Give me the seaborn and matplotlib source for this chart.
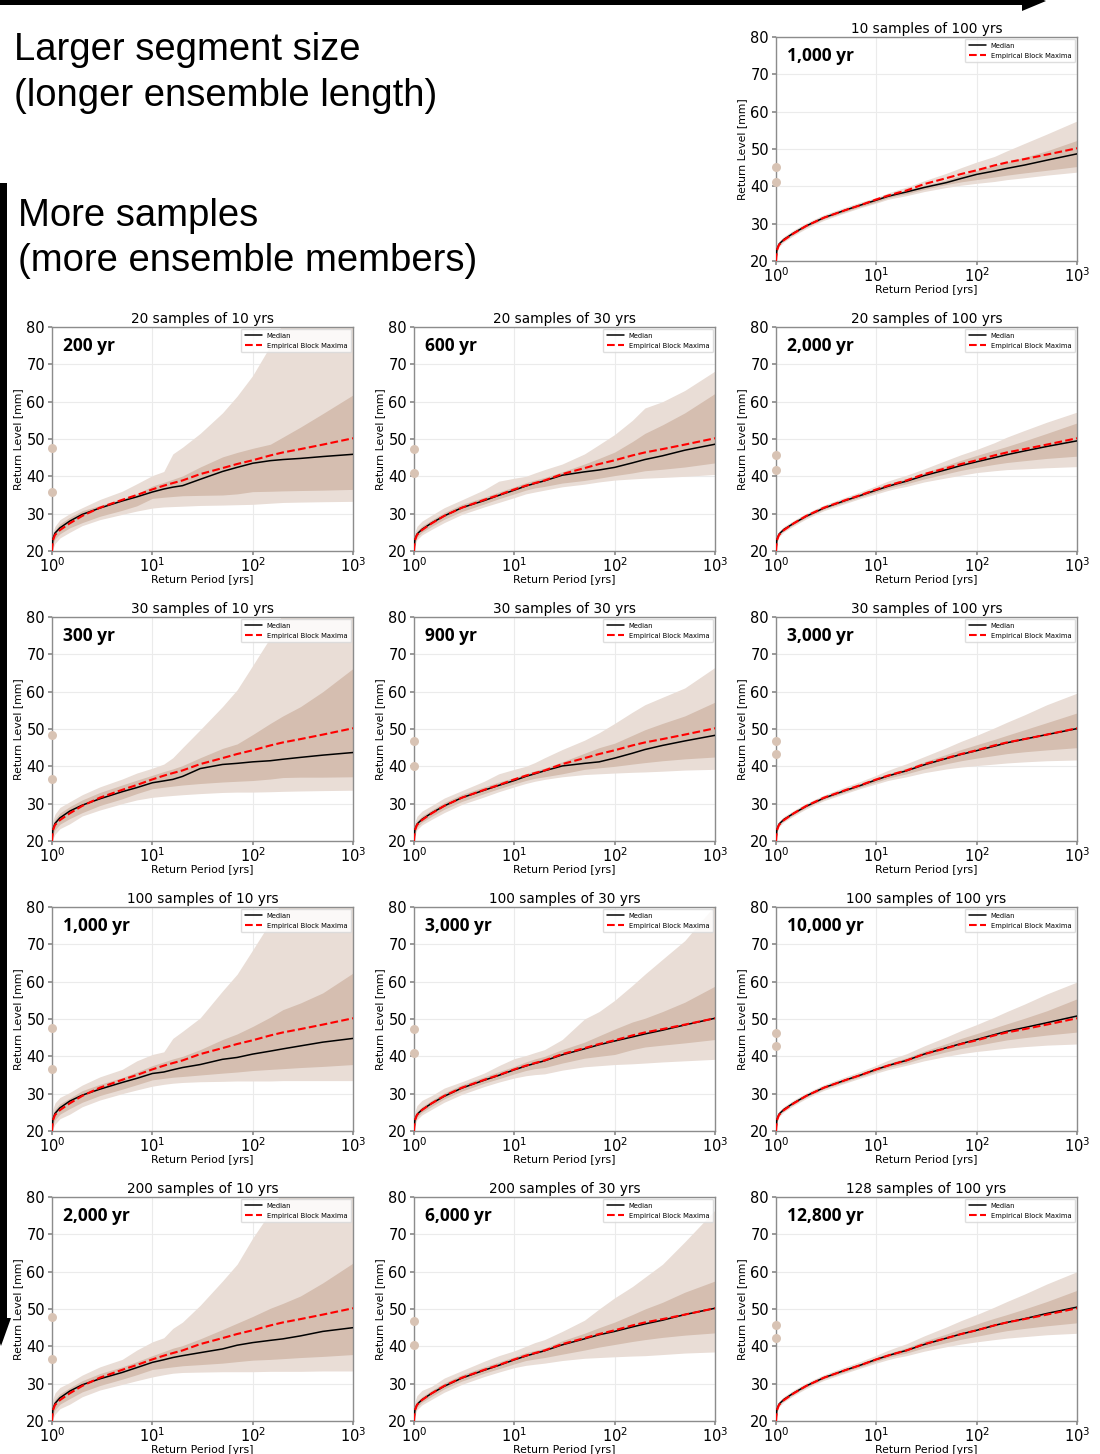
import matplotlib
matplotlib.use("Agg")
import matplotlib.pyplot as plt
from matplotlib.patches import Polygon
from matplotlib.ticker import FixedLocator, NullLocator
import seaborn as sns

# ---------------------------------------------------------------------------
# Return periods (years) shared by every curve
# ---------------------------------------------------------------------------
return_period = [1.0, 1.02, 1.07, 1.2, 1.5, 2, 3, 5, 7, 10, 13, 16, 20, 30,
                 50, 70, 100, 150, 200, 300, 500, 1000]

# Empirical block-maxima return levels (same reference in every panel)
empirical = [20.0, 22.8, 24.3, 25.6, 27.4, 29.4, 31.6, 33.7, 35.0, 36.5, 37.5,
             38.2, 38.9, 40.6, 42.2, 43.3, 44.3, 45.6, 46.4, 47.3, 48.5, 50.2]

# ---- 10-year segments -----------------------------------------------------
med_20x10 = [20.3, 23.2, 24.8, 26.2, 28.0, 29.8, 31.5, 33.4, 34.5, 35.8, 36.6,
             37.1, 37.5, 39.2, 41.3, 42.4, 43.5, 44.2, 44.5, 44.8, 45.3, 45.9]
in_lo_20x10 = [19.8, 21.8, 23.2, 24.6, 26.2, 27.6, 29.3, 30.9, 32.1, 34.1, 34.4,
               34.6, 34.8, 34.9, 35.0, 35.3, 35.9, 36.0, 36.1, 36.2, 36.3, 36.5]
in_hi_20x10 = [20.8, 24.0, 25.6, 27.3, 29.0, 30.8, 32.2, 34.0, 35.3, 37.4, 38.4,
               39.2, 40.1, 42.5, 45.2, 46.4, 47.5, 48.6, 50.5, 53.2, 56.8, 61.8]
out_lo_20x10 = [19.0, 20.5, 22.0, 23.5, 25.0, 26.8, 28.4, 29.8, 30.7, 31.5, 31.8,
                31.9, 32.0, 32.2, 32.3, 32.4, 32.5, 32.8, 33.0, 33.1, 33.2, 33.3]
out_hi_20x10 = [22.5, 25.0, 26.6, 28.4, 30.0, 31.6, 33.8, 36.0, 38.0, 40.2, 41.3,
                46.0, 47.8, 51.5, 57.0, 61.5, 67.0, 75.0, 81.0, 90.0, 100.0, 115.0]
dots_20x10 = [47.5, 35.9]

med_30x10 = [20.3, 23.0, 24.7, 26.2, 28.0, 29.6, 31.3, 33.2, 34.3, 35.6, 36.1,
             36.5, 37.3, 39.4, 40.5, 40.8, 41.2, 41.5, 41.9, 42.4, 43.0, 43.7]
in_lo_30x10 = [19.8, 21.6, 23.0, 24.5, 26.0, 27.6, 29.5, 31.3, 32.7, 34.0, 34.4,
               34.7, 35.0, 35.4, 35.8, 36.0, 36.2, 36.6, 37.0, 37.1, 37.1, 37.2]
in_hi_30x10 = [20.8, 24.2, 25.8, 27.5, 29.2, 31.0, 33.0, 35.0, 36.3, 37.6, 38.6,
               39.3, 40.2, 42.3, 44.8, 46.0, 48.5, 51.5, 53.5, 56.0, 60.0, 66.2]
out_lo_30x10 = [19.0, 20.5, 21.8, 23.3, 24.6, 26.7, 28.3, 30.0, 31.0, 31.7, 32.0,
                32.2, 32.4, 32.7, 33.0, 33.1, 33.1, 33.2, 33.3, 33.4, 33.5, 33.6]
out_hi_30x10 = [22.5, 25.5, 27.2, 29.0, 30.5, 32.4, 34.5, 36.6, 38.2, 39.5, 40.6,
                42.3, 45.0, 49.8, 56.0, 60.5, 67.0, 74.5, 81.0, 90.0, 100.0, 115.0]
dots_30x10 = [48.4, 36.6]

med_100x10 = [20.3, 23.0, 24.7, 26.2, 28.0, 29.6, 31.2, 33.0, 34.1, 35.4, 35.8,
              36.4, 37.0, 37.8, 39.2, 39.7, 40.6, 41.4, 42.0, 42.8, 43.8, 44.8]
in_lo_100x10 = [19.8, 21.6, 23.0, 24.5, 26.0, 27.7, 29.5, 31.2, 32.4, 33.7, 34.1,
                34.4, 34.6, 35.0, 35.5, 35.8, 36.2, 36.5, 36.7, 37.0, 37.3, 37.8]
in_hi_100x10 = [20.8, 24.2, 25.8, 27.3, 28.8, 30.8, 32.5, 34.3, 35.8, 37.5, 38.5,
                39.3, 40.0, 41.8, 44.5, 46.0, 48.0, 50.5, 52.5, 54.3, 57.0, 62.3]
out_lo_100x10 = [19.0, 20.5, 21.8, 23.3, 24.5, 26.5, 28.3, 30.0, 31.0, 32.0, 32.5,
                 32.8, 33.0, 33.2, 33.3, 33.4, 33.4, 33.4, 33.5, 33.5, 33.5, 33.5]
out_hi_100x10 = [23.0, 25.8, 27.5, 29.0, 30.3, 32.3, 34.5, 36.5, 38.8, 40.5, 41.2,
                 44.8, 46.7, 50.3, 57.5, 62.0, 68.5, 76.0, 82.0, 90.0, 100.0, 115.0]
dots_100x10 = [47.5, 36.6]

med_200x10 = [20.3, 23.0, 24.7, 26.2, 28.0, 29.7, 31.3, 33.0, 34.3, 35.7, 36.4,
              37.0, 37.5, 38.3, 39.3, 40.3, 41.0, 41.6, 42.0, 42.8, 44.0, 45.0]
in_lo_200x10 = [19.8, 21.6, 23.0, 24.5, 26.0, 27.8, 29.5, 31.2, 32.4, 33.8, 34.2,
                34.5, 34.8, 35.1, 35.5, 35.9, 36.3, 36.5, 36.7, 37.0, 37.3, 37.8]
in_hi_200x10 = [20.8, 24.2, 25.8, 27.3, 28.9, 30.8, 32.7, 34.5, 35.9, 37.5, 38.6,
                39.5, 40.2, 42.0, 44.5, 46.2, 48.0, 50.2, 51.5, 53.5, 57.0, 62.3]
out_lo_200x10 = [19.0, 20.5, 21.8, 23.3, 24.5, 26.5, 28.3, 29.8, 30.8, 31.8, 32.4,
                 32.8, 33.0, 33.1, 33.2, 33.2, 33.2, 33.3, 33.3, 33.3, 33.4, 33.4]
out_hi_200x10 = [23.0, 25.8, 27.5, 29.0, 30.3, 32.3, 34.5, 36.5, 39.0, 41.2, 42.3,
                 44.8, 46.5, 51.0, 57.5, 62.0, 69.0, 76.0, 82.0, 90.0, 100.0, 115.0]
dots_200x10 = [47.9, 36.5]

# ---- 30-year segments -----------------------------------------------------
med_20x30 = [20.5, 23.0, 24.5, 25.8, 27.5, 29.4, 31.6, 33.5, 34.9, 36.3, 37.4,
             38.1, 38.8, 40.3, 41.2, 41.7, 42.4, 43.6, 44.5, 45.5, 47.0, 48.6]
in_lo_20x30 = [20.0, 22.2, 23.7, 25.0, 26.6, 28.5, 30.6, 32.6, 34.0, 35.3, 36.3,
               36.9, 37.3, 38.2, 38.9, 39.5, 40.2, 40.9, 41.5, 41.9, 42.5, 43.6]
in_hi_20x30 = [21.0, 23.8, 25.3, 26.7, 28.3, 30.3, 32.5, 34.4, 35.8, 37.2, 38.3,
               39.0, 39.7, 41.2, 43.3, 44.8, 46.5, 49.3, 51.5, 53.8, 57.0, 62.2]
out_lo_20x30 = [19.5, 21.5, 23.0, 24.3, 25.8, 27.6, 29.8, 31.8, 33.0, 34.3, 35.3,
                35.8, 36.3, 37.2, 37.9, 38.5, 39.0, 39.3, 39.5, 39.7, 40.0, 40.5]
out_hi_20x30 = [22.0, 25.0, 26.6, 28.0, 29.6, 31.6, 33.7, 36.4, 38.7, 39.5, 40.0,
                40.9, 41.8, 43.3, 46.0, 48.5, 51.2, 55.0, 58.3, 60.0, 63.0, 68.2]
dots_20x30 = [47.3, 40.9]

med_30x30 = [20.5, 23.0, 24.5, 25.8, 27.5, 29.4, 31.6, 33.6, 34.9, 36.2, 37.3,
             38.0, 38.8, 40.1, 40.8, 41.2, 42.2, 43.5, 44.5, 45.6, 46.8, 48.3]
in_lo_30x30 = [20.0, 22.2, 23.7, 25.0, 26.6, 28.5, 30.6, 32.7, 34.0, 35.3, 36.2,
               36.8, 37.2, 38.0, 39.2, 39.6, 40.0, 40.6, 41.0, 41.5, 42.0, 42.5]
in_hi_30x30 = [21.0, 23.8, 25.3, 26.7, 28.3, 30.3, 32.5, 34.5, 35.8, 37.0, 38.0,
               38.8, 39.5, 41.2, 43.5, 45.0, 46.2, 48.3, 49.8, 51.5, 53.5, 57.2]
out_lo_30x30 = [19.5, 21.5, 23.0, 24.3, 25.8, 27.6, 29.8, 31.8, 33.2, 34.5, 35.4,
                36.0, 36.5, 37.2, 37.8, 38.0, 38.2, 38.4, 38.5, 38.7, 39.0, 39.2]
out_hi_30x30 = [22.0, 25.0, 26.6, 28.0, 29.5, 31.5, 33.5, 36.0, 38.0, 39.2, 40.0,
                41.0, 42.3, 44.5, 47.0, 49.0, 51.5, 54.5, 56.5, 58.5, 61.0, 66.5]
dots_30x30 = [46.7, 40.2]

med_100x30 = [20.5, 22.9, 24.4, 25.7, 27.4, 29.3, 31.5, 33.6, 34.9, 36.4, 37.4,
              38.1, 38.8, 40.4, 42.0, 43.1, 44.1, 45.2, 46.0, 47.0, 48.4, 50.2]
in_lo_100x30 = [20.0, 22.2, 23.7, 25.0, 26.6, 28.6, 30.7, 32.8, 34.0, 35.3, 36.2,
                36.7, 37.0, 38.2, 39.5, 40.0, 40.5, 41.8, 42.5, 43.0, 43.6, 44.5]
in_hi_100x30 = [21.0, 23.7, 25.2, 26.5, 28.2, 30.2, 32.4, 34.5, 35.9, 37.3, 38.5,
                39.3, 40.0, 41.8, 43.8, 45.5, 47.3, 49.2, 50.2, 52.0, 54.5, 58.8]
out_lo_100x30 = [19.5, 21.5, 23.0, 24.3, 25.8, 27.7, 29.8, 31.9, 33.1, 34.2, 34.8,
                 35.1, 35.3, 36.3, 37.2, 37.5, 37.8, 38.0, 38.2, 38.5, 38.8, 39.2]
out_hi_100x30 = [22.3, 25.2, 26.8, 28.2, 29.5, 31.5, 33.2, 35.5, 37.5, 39.4, 40.2,
                 41.0, 41.8, 44.5, 50.0, 52.0, 55.0, 59.0, 62.0, 66.0, 71.0, 80.5]
dots_100x30 = [47.4, 41.0]

med_200x30 = [20.5, 22.9, 24.4, 25.7, 27.4, 29.3, 31.5, 33.6, 34.9, 36.4, 37.4,
              38.1, 38.8, 40.4, 42.0, 43.1, 44.0, 45.2, 46.0, 47.0, 48.5, 50.2]
in_lo_200x30 = [20.0, 22.2, 23.7, 25.0, 26.6, 28.6, 30.7, 32.8, 34.0, 35.3, 36.2,
                36.6, 37.0, 37.9, 39.0, 39.8, 40.5, 41.3, 41.8, 42.4, 43.0, 43.6]
in_hi_200x30 = [21.0, 23.7, 25.2, 26.5, 28.2, 30.2, 32.4, 34.5, 35.8, 37.2, 38.3,
                38.9, 39.5, 41.5, 43.5, 45.0, 46.5, 48.5, 50.0, 51.8, 54.5, 57.5]
out_lo_200x30 = [19.5, 21.5, 23.0, 24.3, 25.8, 27.7, 29.8, 31.9, 33.1, 34.3, 34.9,
                 35.2, 35.5, 36.2, 36.8, 37.0, 37.2, 37.4, 37.5, 37.8, 38.2, 38.5]
out_hi_200x30 = [22.3, 25.2, 26.8, 28.2, 29.3, 31.5, 33.5, 36.0, 37.5, 38.8, 40.0,
                 41.0, 41.8, 44.0, 47.0, 50.0, 53.0, 56.0, 58.5, 62.0, 68.0, 76.5]
dots_200x30 = [46.8, 40.4]

# ---- 100-year segments ----------------------------------------------------
med_10x100 = [20.5, 23.0, 24.5, 25.8, 27.5, 29.4, 31.6, 33.7, 35.0, 36.3, 37.3,
              37.9, 38.5, 39.7, 41.0, 42.1, 43.2, 44.1, 44.8, 45.7, 47.0, 48.7]
in_lo_10x100 = [20.3, 22.7, 24.2, 25.5, 27.2, 29.1, 31.3, 33.3, 34.6, 35.8, 36.9,
                37.5, 38.0, 39.2, 40.5, 41.2, 41.8, 42.5, 43.0, 43.6, 44.3, 45.3]
in_hi_10x100 = [20.8, 23.3, 24.8, 26.1, 27.8, 29.7, 31.9, 34.0, 35.4, 36.8, 37.8,
                38.4, 39.0, 40.3, 41.7, 43.0, 44.3, 45.5, 46.5, 47.8, 49.5, 52.3]
out_lo_10x100 = [19.8, 22.3, 23.8, 25.1, 26.8, 28.7, 30.9, 33.0, 34.3, 35.5, 36.5,
                 37.0, 37.5, 38.6, 39.7, 40.3, 40.8, 41.3, 41.8, 42.3, 43.0, 43.8]
out_hi_10x100 = [21.3, 23.8, 25.3, 26.6, 28.3, 30.2, 32.4, 34.5, 35.8, 37.0, 38.2,
                 39.0, 39.8, 41.5, 43.5, 45.0, 46.5, 48.0, 49.5, 51.5, 54.0, 57.5]
dots_10x100 = [45.1, 41.1]

med_20x100 = [20.5, 23.0, 24.5, 25.8, 27.4, 29.3, 31.5, 33.6, 34.9, 36.3, 37.3,
              38.0, 38.7, 40.2, 41.8, 42.9, 43.9, 45.0, 45.8, 46.8, 48.0, 49.5]
in_lo_20x100 = [20.3, 22.7, 24.2, 25.5, 27.1, 29.0, 31.2, 33.2, 34.5, 35.8, 36.8,
                37.4, 38.0, 39.3, 40.7, 41.6, 42.4, 43.2, 43.7, 44.2, 44.8, 45.4]
in_hi_20x100 = [20.8, 23.3, 24.8, 26.1, 27.7, 29.6, 31.8, 34.0, 35.4, 36.9, 38.0,
                38.7, 39.4, 41.0, 43.0, 44.3, 45.6, 47.0, 48.0, 49.5, 51.5, 54.3]
out_lo_20x100 = [19.8, 22.3, 23.8, 25.1, 26.7, 28.6, 30.8, 32.8, 34.1, 35.3, 36.2,
                 36.8, 37.3, 38.5, 39.6, 40.3, 41.0, 41.5, 41.8, 42.0, 42.3, 42.6]
out_hi_20x100 = [21.3, 23.8, 25.3, 26.6, 28.2, 30.1, 32.3, 34.5, 35.9, 37.5, 38.7,
                 39.5, 40.3, 42.0, 44.3, 45.8, 47.2, 49.0, 50.5, 52.3, 54.5, 57.2]
dots_20x100 = [45.7, 41.7]

med_30x100 = [20.5, 23.0, 24.5, 25.8, 27.4, 29.3, 31.5, 33.6, 34.9, 36.4, 37.4,
              38.1, 38.8, 40.4, 42.1, 43.2, 44.2, 45.4, 46.3, 47.3, 48.5, 50.1]
in_lo_30x100 = [20.3, 22.7, 24.2, 25.5, 27.1, 29.0, 31.2, 33.2, 34.5, 35.8, 36.8,
                37.4, 38.0, 39.3, 40.7, 41.5, 42.2, 42.9, 43.4, 43.9, 44.4, 45.0]
in_hi_30x100 = [20.8, 23.3, 24.8, 26.1, 27.7, 29.6, 31.8, 34.0, 35.4, 36.9, 38.0,
                38.7, 39.5, 41.2, 43.2, 44.5, 45.8, 47.2, 48.3, 49.8, 51.7, 54.3]
out_lo_30x100 = [19.8, 22.3, 23.8, 25.1, 26.7, 28.6, 30.8, 32.8, 34.1, 35.3, 36.2,
                 36.7, 37.2, 38.3, 39.3, 39.8, 40.2, 40.6, 40.9, 41.2, 41.5, 41.7]
out_hi_30x100 = [21.3, 23.8, 25.3, 26.6, 28.2, 30.1, 32.3, 34.6, 36.0, 37.6, 38.9,
                 39.8, 40.7, 42.6, 45.0, 46.7, 48.3, 50.3, 51.8, 53.8, 56.5, 59.6]
dots_30x100 = [46.8, 43.3]

med_100x100 = [20.5, 23.0, 24.5, 25.8, 27.5, 29.4, 31.6, 33.7, 35.0, 36.5, 37.5,
               38.2, 38.9, 40.6, 42.3, 43.4, 44.5, 45.8, 46.7, 47.7, 49.0, 50.8]
in_lo_100x100 = [20.3, 22.7, 24.2, 25.5, 27.2, 29.1, 31.3, 33.3, 34.6, 36.0, 37.0,
                 37.6, 38.2, 39.7, 41.2, 42.1, 42.9, 43.8, 44.4, 45.0, 45.7, 46.5]
in_hi_100x100 = [20.8, 23.3, 24.8, 26.1, 27.8, 29.7, 31.9, 34.1, 35.5, 37.0, 38.1,
                 38.8, 39.6, 41.4, 43.4, 44.8, 46.1, 47.6, 48.7, 50.2, 52.2, 55.4]
out_lo_100x100 = [19.8, 22.3, 23.8, 25.1, 26.8, 28.7, 30.9, 32.9, 34.2, 35.5, 36.4,
                  37.0, 37.6, 38.8, 40.0, 40.7, 41.3, 41.8, 42.2, 42.6, 43.0, 43.3]
out_hi_100x100 = [21.3, 23.8, 25.3, 26.6, 28.3, 30.2, 32.4, 34.6, 36.0, 37.6, 38.9,
                  39.8, 40.7, 42.8, 45.2, 46.9, 48.5, 50.5, 52.0, 54.0, 56.7, 59.9]
dots_100x100 = [46.2, 42.8]

med_128x100 = [20.5, 23.0, 24.5, 25.8, 27.5, 29.4, 31.6, 33.7, 35.0, 36.5, 37.5,
               38.2, 38.9, 40.5, 42.2, 43.3, 44.3, 45.6, 46.4, 47.4, 48.8, 50.5]
in_lo_128x100 = [20.3, 22.7, 24.2, 25.5, 27.2, 29.1, 31.3, 33.3, 34.6, 36.0, 37.0,
                 37.6, 38.2, 39.6, 41.0, 41.9, 42.7, 43.6, 44.2, 44.8, 45.5, 46.3]
in_hi_128x100 = [20.8, 23.3, 24.8, 26.1, 27.8, 29.7, 31.9, 34.1, 35.5, 37.0, 38.1,
                 38.8, 39.6, 41.4, 43.3, 44.7, 46.0, 47.5, 48.5, 50.0, 52.0, 55.0]
out_lo_128x100 = [19.8, 22.3, 23.8, 25.1, 26.8, 28.7, 30.9, 32.9, 34.2, 35.5, 36.4,
                  37.0, 37.5, 38.7, 39.9, 40.6, 41.2, 41.8, 42.2, 42.6, 43.1, 43.5]
out_hi_128x100 = [21.3, 23.8, 25.3, 26.6, 28.3, 30.2, 32.4, 34.6, 36.0, 37.6, 38.9,
                  39.8, 40.7, 42.8, 45.2, 46.9, 48.5, 50.5, 52.0, 54.0, 56.7, 60.0]
dots_128x100 = [45.6, 42.2]

# Grid layout: (row, column, n_samples, segment_years, series...)
panels = [
    (0, 2, 10, 100, med_10x100, in_lo_10x100, in_hi_10x100, out_lo_10x100, out_hi_10x100, dots_10x100),
    (1, 0, 20, 10, med_20x10, in_lo_20x10, in_hi_20x10, out_lo_20x10, out_hi_20x10, dots_20x10),
    (1, 1, 20, 30, med_20x30, in_lo_20x30, in_hi_20x30, out_lo_20x30, out_hi_20x30, dots_20x30),
    (1, 2, 20, 100, med_20x100, in_lo_20x100, in_hi_20x100, out_lo_20x100, out_hi_20x100, dots_20x100),
    (2, 0, 30, 10, med_30x10, in_lo_30x10, in_hi_30x10, out_lo_30x10, out_hi_30x10, dots_30x10),
    (2, 1, 30, 30, med_30x30, in_lo_30x30, in_hi_30x30, out_lo_30x30, out_hi_30x30, dots_30x30),
    (2, 2, 30, 100, med_30x100, in_lo_30x100, in_hi_30x100, out_lo_30x100, out_hi_30x100, dots_30x100),
    (3, 0, 100, 10, med_100x10, in_lo_100x10, in_hi_100x10, out_lo_100x10, out_hi_100x10, dots_100x10),
    (3, 1, 100, 30, med_100x30, in_lo_100x30, in_hi_100x30, out_lo_100x30, out_hi_100x30, dots_100x30),
    (3, 2, 100, 100, med_100x100, in_lo_100x100, in_hi_100x100, out_lo_100x100, out_hi_100x100, dots_100x100),
    (4, 0, 200, 10, med_200x10, in_lo_200x10, in_hi_200x10, out_lo_200x10, out_hi_200x10, dots_200x10),
    (4, 1, 200, 30, med_200x30, in_lo_200x30, in_hi_200x30, out_lo_200x30, out_hi_200x30, dots_200x30),
    (4, 2, 128, 100, med_128x100, in_lo_128x100, in_hi_128x100, out_lo_128x100, out_hi_128x100, dots_128x100),
]

# ---------------------------------------------------------------------------
# Styling
# ---------------------------------------------------------------------------
sns.set_theme(style="whitegrid")
plt.rcParams.update({
    "font.family": ["DejaVu Sans"],
    "text.color": "black",
    "axes.labelcolor": "black",
    "axes.titlecolor": "black",
    "axes.edgecolor": "0.55",
    "axes.linewidth": 1.0,
    "grid.color": "0.92",
    "grid.linewidth": 0.8,
    "xtick.bottom": True,
    "ytick.left": True,
    "xtick.major.size": 3,
    "ytick.major.size": 3,
    "xtick.color": "0.55",
    "ytick.color": "0.55",
    "xtick.labelcolor": "black",
    "ytick.labelcolor": "black",
    "xtick.major.pad": 0.5,
    "ytick.major.pad": 2,
})

LIGHT = "#e9ddd6"
DARK = "#d5beb0"
DOT = "#d8c3b4"

W, H = 1100, 1454
fig = plt.figure(figsize=(W / 100, H / 100), dpi=100)

col_left = [52, 414, 776]
row_top = [37, 327, 617, 907, 1197]
AX_W, AX_H = 301, 224


def frac_box(left, top, w, h):
    return [left / W, 1 - (top + h) / H, w / W, h / H]


for (r, c, n, seg, med, in_lo, in_hi, out_lo, out_hi, dots) in panels:
    ax = fig.add_axes(frac_box(col_left[c], row_top[r], AX_W, AX_H))
    ax.fill_between(return_period, out_lo, out_hi, color=LIGHT, lw=0, zorder=1)
    ax.fill_between(return_period, in_lo, in_hi, color=DARK, lw=0, zorder=2)
    sns.lineplot(x=return_period, y=med, ax=ax, color="black", lw=1.1,
                 label="Median", zorder=4)
    sns.lineplot(x=return_period, y=empirical, ax=ax, color="red", lw=1.5,
                 linestyle="--", label="Empirical Block Maxima", zorder=5)
    ax.scatter([1, 1], dots, s=42, color=DOT, zorder=6, clip_on=False,
               linewidths=0)

    ax.set_xscale("log")
    ax.set_xlim(1, 1000)
    ax.set_ylim(20, 80)
    ax.xaxis.set_major_locator(FixedLocator([1, 10, 100, 1000]))
    ax.xaxis.set_minor_locator(NullLocator())
    ax.set_yticks([20, 30, 40, 50, 60, 70, 80])
    ax.tick_params(axis="both", labelsize=10.5)
    ax.grid(True, which="major")
    for sp in ax.spines.values():
        sp.set_visible(True)
        sp.set_color("0.55")

    ax.set_title(f"{n} samples of {seg} yrs", fontsize=9.8, pad=3)
    ax.set_xlabel("Return Period [yrs]", fontsize=7.8, labelpad=0.5)
    ax.set_ylabel("Return Level [mm]", fontsize=7.8, labelpad=2)
    ax.text(0.035, 0.915, f"{n * seg:,} yr", transform=ax.transAxes,
            fontsize=12.5, fontweight="bold", family=["Open Sans", "DejaVu Sans"],
            va="center", ha="left", zorder=7)
    ax.legend(loc="upper right", fontsize=4.9, frameon=True, framealpha=0.85,
              edgecolor="0.85", borderaxespad=0.3, handlelength=2.5,
              handletextpad=0.7, borderpad=0.55, labelspacing=0.55)

# ---------------------------------------------------------------------------
# Annotations: headings and direction arrows
# ---------------------------------------------------------------------------
heading_font = ["Liberation Sans", "DejaVu Sans"]
fig.text(14 / W, 1 - 60 / H, "Larger segment size", fontsize=27.5,
         family=heading_font, va="baseline", ha="left", color="black")
fig.text(14 / W, 1 - 106 / H, "(longer ensemble length)", fontsize=27.5,
         family=heading_font, va="baseline", ha="left", color="black")
fig.text(18 / W, 1 - 226 / H, "More samples", fontsize=27.5,
         family=heading_font, va="baseline", ha="left", color="black")
fig.text(18 / W, 1 - 271 / H, "(more ensemble members)", fontsize=27.5,
         family=heading_font, va="baseline", ha="left", color="black")


def pixel_polygon(points):
    return [(x / W, 1 - y / H) for x, y in points]


# horizontal arrow along the top edge
top_arrow = pixel_polygon([(-5, -4), (1022, -4), (1022, -9), (1046, 1),
                           (1022, 11), (1022, 5), (-5, 5)])
fig.add_artist(Polygon(top_arrow, closed=True, transform=fig.transFigure,
                       facecolor="black", edgecolor="none", clip_on=False))

# vertical arrow along the left edge
left_arrow = pixel_polygon([(-4, 183), (7, 183), (7, 1318), (11, 1318),
                            (1, 1346), (-9, 1318), (-4, 1318)])
fig.add_artist(Polygon(left_arrow, closed=True, transform=fig.transFigure,
                       facecolor="black", edgecolor="none", clip_on=False))

fig.savefig("out.png", dpi=100)
